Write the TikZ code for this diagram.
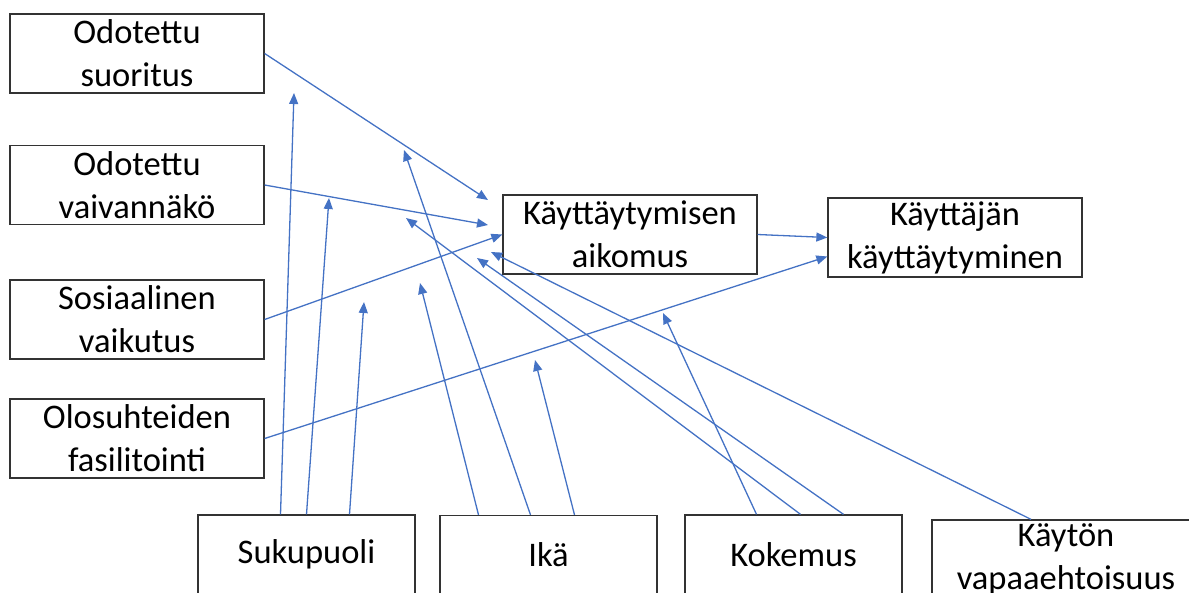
\documentclass[tikz,border=0pt]{standalone}
\usepackage{fontspec}
\setmainfont{Carlito}
\usetikzlibrary{arrows.meta}
\definecolor{linkblue}{HTML}{4472C4}

\begin{document}
\begin{tikzpicture}[x=1pt,y=-1pt,
    box/.style={draw=black!80,line width=1.3pt,minimum width=254pt,minimum height=79pt,
        inner sep=0pt,align=center,font=\fontsize{34.5}{43}\selectfont},
    lowbox/.style={box,minimum width=217pt},
    link/.style={draw=linkblue,line width=1.3pt,-{Triangle[length=11pt,width=9pt]}}]
    \useasboundingbox (0,0) rectangle (1189,592);
    % Determinants on the left
    \node[box] (suor) at (137,53.5) {Odotettu\\suoritus};
    \node[box] (vaiv) at (137,185) {Odotettu\\vaivannäkö};
    \node[box] (sosi) at (137,319.5) {Sosiaalinen\\vaikutus};
    \node[box] (olos) at (137,438.5) {Olosuhteiden\\fasilitointi};
    % Intention and behaviour
    \node[box] (aiko) at (630,234.5) {Käyttäytymisen\\aikomus};
    \node[box] (kayt) at (955,237.5) {Käyttäjän\\käyttäytyminen};
    % Moderators at the bottom
    \node[lowbox] (suku) at (306.5,554.5) {Sukupuoli};
    \node[lowbox] (ika) at (548.5,555) {Ikä};
    \node[lowbox] (koke) at (793.5,554.5) {Kokemus};
    \node[box,minimum width=268pt] (vapa) at (1066,559.5) {Käytön\\vapaaehtoisuus};
    % Free arrow ends
    \coordinate (suorEnd) at (488,200);
    \coordinate (vaivEnd) at (488,225);
    \coordinate (sukuA) at (294,93);
    \coordinate (sukuB) at (329,198);
    \coordinate (sukuC) at (364,302);
    \coordinate (ikaA) at (420,283);
    \coordinate (ikaB) at (404,150);
    \coordinate (ikaC) at (535,360);
    \coordinate (kokeA) at (663,313);
    \coordinate (kokeB) at (406,218);
    \coordinate (kokeC) at (477,258);
    \coordinate (vapaEnd) at (491,252);
    % Main paths
    \draw[link] (suor.east) -- (suorEnd);
    \draw[link] (vaiv.east) -- (vaivEnd);
    \draw[link] (sosi.east) -- (aiko.west);
    \draw[link] (olos.east) -- ([yshift=-19pt]kayt.west);
    \draw[link] (aiko.east) -- (kayt.west);
    % Moderating effects
    \draw[link] ([xshift=-26pt]suku.north) -- (sukuA);
    \draw[link] (suku.north) -- (sukuB);
    \draw[link] ([xshift=43pt]suku.north) -- (sukuC);
    \draw[link] ([xshift=-70pt]ika.north) -- (ikaA);
    \draw[link] ([xshift=-18pt]ika.north) -- (ikaB);
    \draw[link] ([xshift=26pt]ika.north) -- (ikaC);
    \draw[link] ([xshift=-37pt]koke.north) -- (kokeA);
    \draw[link] ([xshift=7pt]koke.north) -- (kokeB);
    \draw[link] ([xshift=50pt]koke.north) -- (kokeC);
    \draw[link] ([xshift=-35pt]vapa.north) -- (vapaEnd);
\end{tikzpicture}
\end{document}
